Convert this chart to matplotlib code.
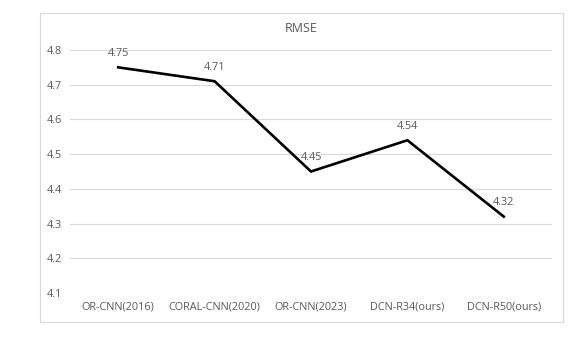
import matplotlib.pyplot as plt
from matplotlib.patches import Rectangle

# DATA
models = ['OR-CNN(2016)', 'CORAL-CNN(2020)', 'OR-CNN(2023)', 'DCN-R34(ours)', 'DCN-R50(ours)']
rmse = [4.75, 4.71, 4.45, 4.54, 4.32]
yticks = [4.1, 4.2, 4.3, 4.4, 4.5, 4.6, 4.7, 4.8]

GRAY = '#595959'
plt.rcParams['font.family'] = ['Open Sans', 'DejaVu Sans']

fig = plt.figure(figsize=(5.87, 3.37), dpi=100)
ax = fig.add_axes([70/587, 1 - 293/337, 482/587, 243/337])

# outer chart border
fig.patches.append(Rectangle((40/587, 1 - 322/337), 523/587, 309/337,
                             transform=fig.transFigure, fill=False,
                             edgecolor='#d9d9d9', linewidth=0.8))

x = list(range(len(models)))
ax.plot(x, rmse, color='black', linewidth=1.9, solid_joinstyle='miter')
for xi, v in zip(x, rmse):
    ax.annotate(f'{v:.2f}', (xi, v), xytext=(0, 6), textcoords='offset points',
                ha='center', va='bottom', fontsize=7.8, color=GRAY)

ax.set_xlim(-0.5, 4.5)
ax.set_ylim(4.1, 4.8)
ax.set_yticks(yticks)
ax.set_yticklabels([f'{t:.1f}' for t in yticks])
ax.set_xticks(x)
ax.set_xticklabels(models)
ax.grid(axis='y', color='#d9d9d9', linewidth=0.8)
ax.set_axisbelow(True)
for s in ax.spines.values():
    s.set_visible(False)
ax.tick_params(length=0, labelsize=7.8, labelcolor=GRAY)
ax.tick_params(axis='y', pad=6)
ax.tick_params(axis='x', pad=6)

# title centred over the whole chart area
fig.text(301.5/587, 1 - 28/337, 'RMSE', ha='center', va='center',
         fontsize=9, color=GRAY)

fig.savefig('out.png', dpi=100)
